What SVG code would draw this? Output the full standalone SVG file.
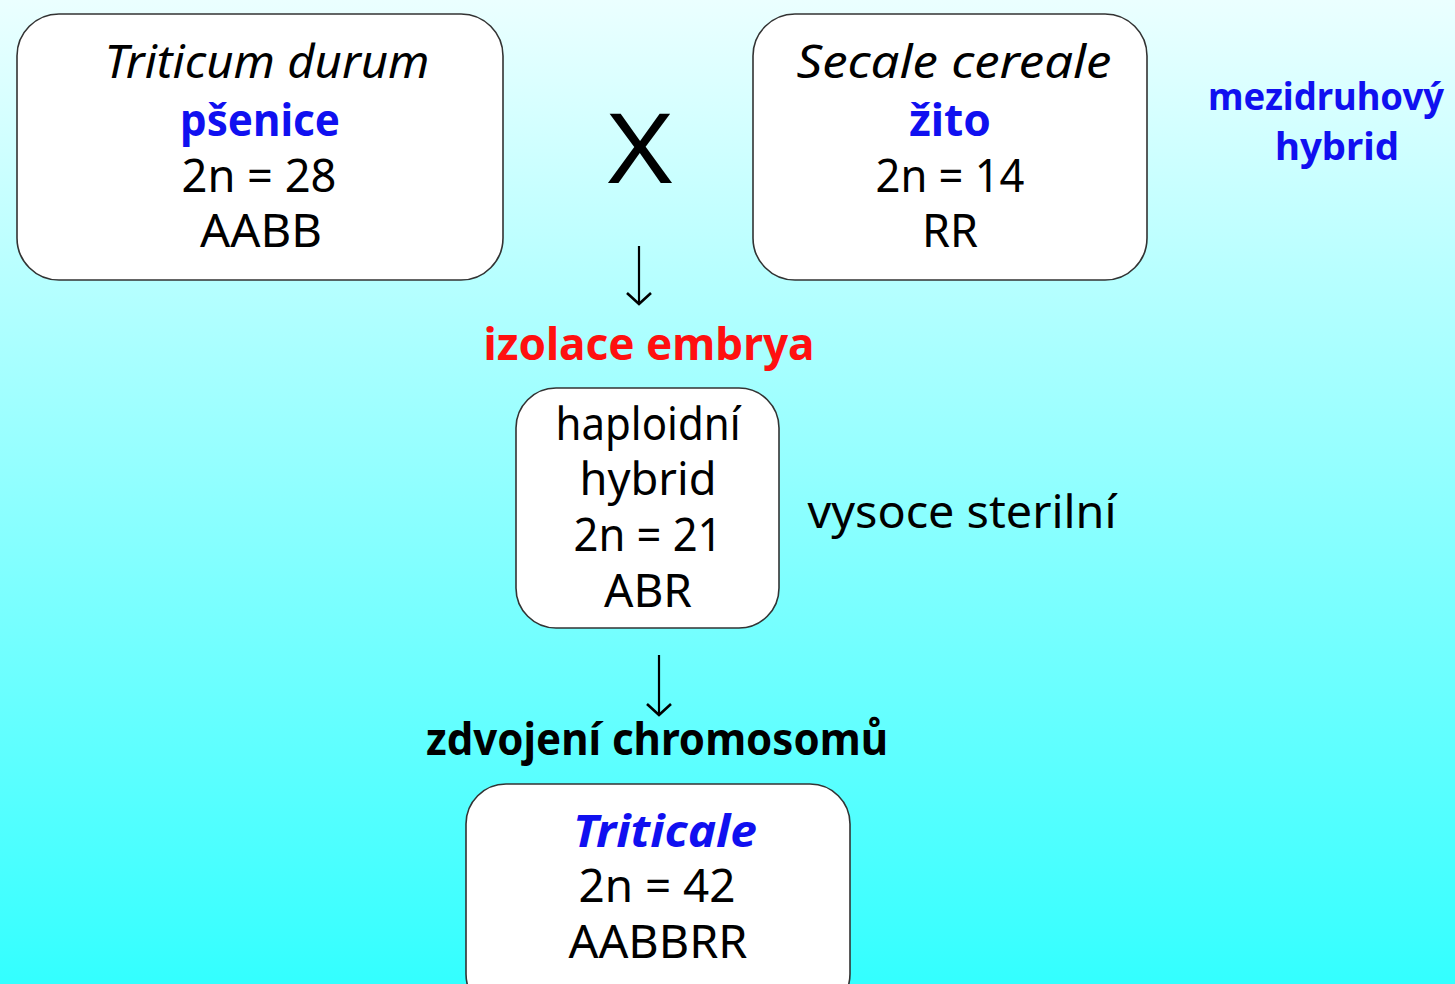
<svg xmlns="http://www.w3.org/2000/svg" width="1455" height="984" viewBox="0 0 1455 984">
<defs>
<linearGradient id="bg" x1="0" y1="0" x2="0" y2="1">
<stop offset="0" stop-color="#ebffff"/>
<stop offset="1" stop-color="#33ffff"/>
</linearGradient>
<marker id="ah" viewBox="0 0 14 26" refX="12.5" refY="13" markerWidth="14" markerHeight="26" markerUnits="userSpaceOnUse" orient="auto">
<path d="M1.5,1 L12.5,13 L1.5,25" fill="none" stroke="#000" stroke-width="2.6" stroke-linejoin="miter"/>
</marker>
</defs>
<style>
.box{fill:#fff;stroke:#333;stroke-width:1.6}
text{font-family:"Comic Sans MS","Noto Sans","DejaVu Sans",sans-serif;font-size:45px;text-anchor:middle;fill:#000}
.it{font-style:italic}
.b{font-weight:bold}
.blue{fill:#1010f0}
.red{fill:#ff1010}
.conn{stroke:#000;stroke-width:2.2;fill:none}
</style>
<rect width="1455" height="984" fill="url(#bg)"/>
<g id="wheat">
<rect class="box" x="17" y="14" width="486" height="266" rx="42"/>
<text class="it" x="267" y="78" textLength="325" lengthAdjust="spacingAndGlyphs">Triticum durum</text>
<text class="b blue" x="260" y="136" textLength="160" lengthAdjust="spacingAndGlyphs">pšenice</text>
<text x="259" y="192" textLength="155" lengthAdjust="spacingAndGlyphs">2n = 28</text>
<text x="261" y="247" textLength="122" lengthAdjust="spacingAndGlyphs">AABB</text>
</g>
<g id="cross">
<text x="640" y="183" style="font-size:96px" textLength="65" lengthAdjust="spacingAndGlyphs">X</text>
</g>
<g id="rye">
<rect class="box" x="753" y="14" width="394" height="266" rx="42"/>
<text class="it" x="954" y="78" textLength="315" lengthAdjust="spacingAndGlyphs">Secale cereale</text>
<text class="b blue" x="950" y="136" textLength="82" lengthAdjust="spacingAndGlyphs">žito</text>
<text x="950" y="192" textLength="149" lengthAdjust="spacingAndGlyphs">2n = 14</text>
<text x="950" y="247" textLength="56" lengthAdjust="spacingAndGlyphs">RR</text>
</g>
<g id="note-hybrid">
<text class="b blue" x="1326" y="110" style="font-size:37px" textLength="236" lengthAdjust="spacingAndGlyphs">mezidruhový</text>
<text class="b blue" x="1337" y="160" style="font-size:37px" textLength="124" lengthAdjust="spacingAndGlyphs">hybrid</text>
</g>
<g id="step-embryo">
<text class="b red" x="649" y="360" textLength="331" lengthAdjust="spacingAndGlyphs">izolace embrya</text>
</g>
<g id="haploid">
<rect class="box" x="516" y="388" width="263" height="240" rx="40"/>
<text x="648" y="440" textLength="185" lengthAdjust="spacingAndGlyphs">haploidní</text>
<text x="648" y="495" textLength="137" lengthAdjust="spacingAndGlyphs">hybrid</text>
<text x="648" y="551" textLength="149" lengthAdjust="spacingAndGlyphs">2n = 21</text>
<text x="648" y="607" textLength="88" lengthAdjust="spacingAndGlyphs">ABR</text>
</g>
<g id="note-sterile">
<text x="962" y="528" textLength="309" lengthAdjust="spacingAndGlyphs">vysoce sterilní</text>
</g>
<g id="step-doubling">
<text class="b" x="657" y="755" textLength="462" lengthAdjust="spacingAndGlyphs">zdvojení chromosomů</text>
</g>
<g id="triticale">
<rect class="box" x="466" y="784" width="384" height="230" rx="40"/>
<text class="it b blue" x="665" y="847" textLength="184" lengthAdjust="spacingAndGlyphs">Triticale</text>
<text x="657" y="902" textLength="157" lengthAdjust="spacingAndGlyphs">2n = 42</text>
<text x="658" y="958" textLength="179" lengthAdjust="spacingAndGlyphs">AABBRR</text>
</g>
<g id="connectors">
<line class="conn" x1="639" y1="246" x2="639" y2="304" marker-end="url(#ah)"/>
<line class="conn" x1="659" y1="655" x2="659" y2="715" marker-end="url(#ah)"/>
</g>
</svg>
